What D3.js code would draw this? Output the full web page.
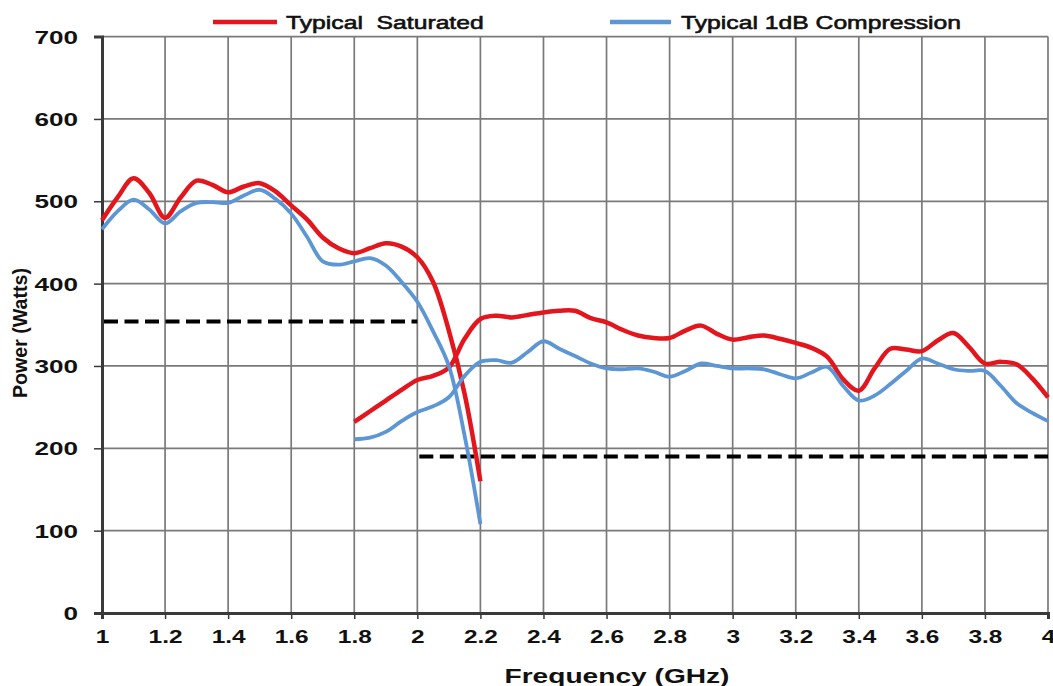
<!DOCTYPE html>
<html>
<head>
<meta charset="utf-8">
<script src="https://cdn.jsdelivr.net/npm/d3@7"></script>
<style>
  body { margin: 0; background: #fff; }
  text { font-family: 'Liberation Sans', Arial, sans-serif; fill: #111; }
</style>
</head>
<body>
<div id="chart"></div>
<script>
// Frequency (GHz) samples
const freqHigh = [1.0, 1.05, 1.1, 1.15, 1.2, 1.25, 1.3, 1.35, 1.4, 1.45, 1.5, 1.55, 1.6, 1.65, 1.7, 1.75, 1.8, 1.85, 1.9, 1.95, 2.0, 2.05, 2.1, 2.15, 2.2]
const freqLow = [1.8, 1.85, 1.9, 1.95, 2.0, 2.05, 2.1, 2.15, 2.2, 2.25, 2.3, 2.35, 2.4, 2.45, 2.5, 2.55, 2.6, 2.65, 2.7, 2.75, 2.8, 2.85, 2.9, 2.95, 3.0, 3.05, 3.1, 3.15, 3.2, 3.25, 3.3, 3.35, 3.4, 3.45, 3.5, 3.55, 3.6, 3.65, 3.7, 3.75, 3.8, 3.85, 3.9, 3.95, 4.0]

// Typical Saturated (W)
const satHigh = [477, 505, 528, 510, 480, 505, 525, 520, 511, 518, 522, 512, 495, 478, 456, 443, 437, 443, 449, 445, 432, 402, 343, 266, 160]
const satLow = [232, 245, 258, 271, 283, 288, 298, 333, 357, 361, 359, 362, 365, 367, 367, 358, 353, 344, 337, 334, 334, 343, 349, 339, 332, 335, 337, 333, 328, 322, 311, 284, 270, 297, 321, 320, 318, 331, 340, 323, 303, 305, 302, 285, 262]

// Typical 1dB Compression (W)
const compHigh = [466, 488, 502, 490, 473, 488, 498, 499, 498, 507, 514, 503, 485, 457, 427, 423, 427, 431, 422, 402, 378, 342, 300, 215, 108]
const compLow = [211, 213, 220, 233, 244, 251, 262, 288, 305, 307, 304, 317, 330, 321, 312, 303, 297, 296, 297, 293, 287, 294, 303, 300, 297, 297, 296, 290, 285, 292, 299, 276, 258, 264, 278, 294, 309, 303, 296, 294, 294, 276, 255, 243, 233]

// dashed spec limits: [from GHz, to GHz, W]
const limits = [[1.0, 2.0, 354], [2.0, 4.0, 190]]

const xTicks = [1, 1.2, 1.4, 1.6, 1.8, 2, 2.2, 2.4, 2.6, 2.8, 3, 3.2, 3.4, 3.6, 3.8, 4]
const yTicks = [0, 100, 200, 300, 400, 500, 600, 700]

const seriesNames = ['Typical  Saturated', 'Typical 1dB Compression']
const seriesColors = ['#e3161d', '#5d96d5']

const chartWidth = 1053
const chartHeight = 686
const plotLeft = 102
const plotRight = 1048
const plotTop = 36.6
const plotBottom = 613

const svg = d3
  .select('#chart')
  .append('svg')
  .attr('width', chartWidth)
  .attr('height', chartHeight)

const scaleX = d3.scaleLinear().domain([1, 4]).range([plotLeft, plotRight])
const scaleY = d3.scaleLinear().domain([0, 700]).range([plotBottom, plotTop])

// source picture is stretched sideways, so widen the text a bit
function stretch(sel, k) {
  sel.each(function() {
    const len = this.getComputedTextLength()
    d3.select(this).attr('textLength', len * k).attr('lengthAdjust', 'spacingAndGlyphs')
  })
}

// grid
svg
  .append('g')
  .selectAll('line')
  .data(yTicks.slice(1))
  .enter()
  .append('line')
  .attr('x1', plotLeft)
  .attr('x2', plotRight)
  .attr('y1', d => scaleY(d))
  .attr('y2', d => scaleY(d))
  .attr('stroke', '#7a7a7a')
  .attr('stroke-width', 1.7)

svg
  .append('g')
  .selectAll('line')
  .data(xTicks.slice(1))
  .enter()
  .append('line')
  .attr('x1', d => scaleX(d))
  .attr('x2', d => scaleX(d))
  .attr('y1', plotTop)
  .attr('y2', plotBottom)
  .attr('stroke', '#7a7a7a')
  .attr('stroke-width', 1.7)

// axes
const axisX = d3.axisBottom(scaleX).tickValues(xTicks).tickSize(6).tickFormat(d3.format('~g'))
const axisY = d3.axisLeft(scaleY).tickValues(yTicks).tickSize(8)

const gx = svg
  .append('g')
  .attr('transform', 'translate(0,' + plotBottom + ')')
  .call(axisX)
gx.select('.domain').attr('stroke', '#3a3a3a').attr('stroke-width', 3)
gx.selectAll('.tick line').attr('stroke', '#3a3a3a').attr('stroke-width', 1.5)
gx.selectAll('.tick text')
  .attr('y', 30)
  .attr('dy', 0)
  .style('font-size', '18.5px')
  .style('font-weight', 'bold')
  .style('fill', '#111')
  .call(stretch, 1.32)

const gy = svg
  .append('g')
  .attr('transform', 'translate(' + plotLeft + ',0)')
  .call(axisY)
gy.select('.domain').attr('stroke', '#3a3a3a').attr('stroke-width', 3)
gy.selectAll('.tick line').attr('stroke', '#3a3a3a').attr('stroke-width', 1.5)
gy.selectAll('.tick text')
  .attr('x', -24)
  .attr('dy', '0.36em')
  .style('font-size', '18px')
  .style('font-weight', 'bold')
  .style('fill', '#111')
  .call(stretch, 1.45)

// dashed limit lines
svg
  .append('g')
  .selectAll('line')
  .data(limits)
  .enter()
  .append('line')
  .attr('x1', d => scaleX(d[0]) + 2)
  .attr('x2', d => scaleX(d[1]))
  .attr('y1', d => scaleY(d[2]))
  .attr('y2', d => scaleY(d[2]))
  .attr('stroke', '#000')
  .attr('stroke-width', 4)
  .attr('stroke-dasharray', '14,6.5')

// curves
const line = d3
  .line()
  .x(d => scaleX(d[0]))
  .y(d => scaleY(d[1]))
  .curve(d3.curveCatmullRom.alpha(0.5))

const curves = [
  { data: d3.zip(freqHigh, satHigh), color: seriesColors[0], width: 4.5 },
  { data: d3.zip(freqLow, satLow), color: seriesColors[0], width: 4.5 },
  { data: d3.zip(freqHigh, compHigh), color: seriesColors[1], width: 3.8 },
  { data: d3.zip(freqLow, compLow), color: seriesColors[1], width: 3.8 },
]

svg
  .append('g')
  .selectAll('path')
  .data(curves)
  .enter()
  .append('path')
  .attr('d', d => line(d.data))
  .attr('fill', 'none')
  .attr('stroke', d => d.color)
  .attr('stroke-width', d => d.width)
  .attr('stroke-linejoin', 'round')

// legend
const legendPos = [[213, 277, 286], [610, 671, 681]]
const legend = svg
  .append('g')
  .selectAll('g')
  .data(seriesNames)
  .enter()
  .append('g')

legend
  .append('line')
  .attr('x1', (d, i) => legendPos[i][0])
  .attr('x2', (d, i) => legendPos[i][1])
  .attr('y1', 22)
  .attr('y2', 22)
  .attr('stroke', (d, i) => seriesColors[i])
  .attr('stroke-width', 4.5)

legend
  .append('text')
  .attr('x', (d, i) => legendPos[i][2])
  .attr('y', 29)
  .style('font-size', '19px')
  .style('white-space', 'pre')
  .style('stroke', '#111')
  .style('stroke-width', 0.6)
  .attr('xml:space', 'preserve')
  .text(d => d)
  .call(stretch, 1.3)

// axis titles
svg
  .append('text')
  .attr('transform', 'translate(27,' + 333 + ') rotate(-90)')
  .attr('text-anchor', 'middle')
  .style('font-size', '20px')
  .style('font-weight', 'bold')
  .attr('textLength', 130)
  .attr('lengthAdjust', 'spacingAndGlyphs')
  .text('Power (Watts)')

svg
  .append('text')
  .attr('x', 617)
  .attr('y', 683)
  .attr('text-anchor', 'middle')
  .style('font-size', '19.5px')
  .style('font-weight', 'bold')
  .attr('textLength', 225)
  .attr('lengthAdjust', 'spacingAndGlyphs')
  .text('Frequency (GHz)')
</script>
</body>
</html>
